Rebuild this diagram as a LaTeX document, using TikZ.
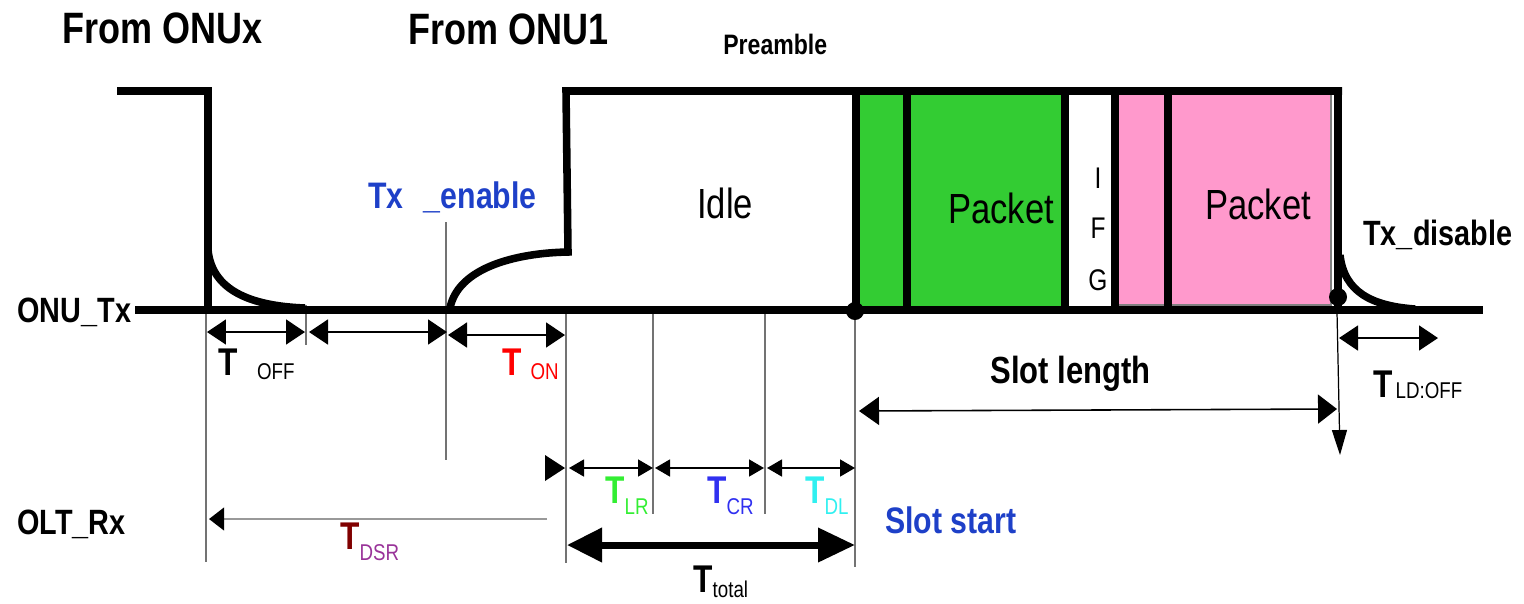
\documentclass[tikz,border=0pt]{standalone}
\usepackage{fontspec}
\setmainfont{Liberation Sans}[FakeStretch=0.82]
\usetikzlibrary{arrows.meta}
\definecolor{pkgreen}{HTML}{33CC33}
\definecolor{pkpink}{HTML}{FF99CC}
\definecolor{enblue}{HTML}{1E40C8}
\definecolor{tlrc}{HTML}{33EE33}
\definecolor{tcrc}{HTML}{3030F0}
\definecolor{tdlc}{HTML}{30F0F0}
\definecolor{tdsrc}{HTML}{800000}
\definecolor{dsrc}{HTML}{993399}
\newcommand{\fsz}[1]{\fontsize{#1}{#1}\selectfont}
\newcommand{\Tlab}[5]{{\color{#1}\fsz{22}\bfseries T}\hspace{#3}\raisebox{-#4}{\color{#2}\fsz{13}#5}}
\begin{document}
\begin{tikzpicture}[x=0.02cm,y=-0.02cm,
  sig/.style={line width=4.3pt, line join=miter},
  guide/.style={line width=0.7pt, draw=black!55},
  dimA/.style={line width=0.9pt, {Triangle[length=0.38cm,width=0.5cm]}-{Triangle[length=0.38cm,width=0.5cm]}},
  dimSL/.style={line width=0.9pt, {Triangle[length=0.4cm,width=0.56cm]}-{Triangle[length=0.38cm,width=0.58cm]}},
  dimB/.style={line width=0.9pt, {Triangle[length=0.3cm,width=0.34cm]}-{Triangle[length=0.3cm,width=0.34cm]}},
  dimC/.style={line width=4pt, {Triangle[length=0.7cm,width=0.66cm]}-{Triangle[length=0.74cm,width=0.66cm]}},
  lab/.style={inner sep=0pt, anchor=base west},
  bl/.style={lab, font=\bfseries\fsz{20}},
  dot/.style={circle, fill=black, inner sep=0pt, minimum size=0.36cm},
]
\useasboundingbox (0,0) rectangle (1524,603);

% packet fills
\fill[pkgreen] (858,95) rectangle (1065,307);
\fill[pkpink] (1115,95) rectangle (1331,307);
\draw[black!50, line width=0.6pt] (1118,305) -- (1331,305) -- (1331,95);

% guide lines
\draw[guide] (206,312) -- (206,562);
\draw[guide] (306,305) -- (306,345);
\draw[guide] (446,222) -- (446,460);
\draw[guide] (566,312) -- (566,563);
\draw[guide] (653,312) -- (653,514);
\draw[guide] (765,312) -- (765,514);
\draw[guide] (855,312) -- (855,567);
\draw[line width=0.7pt, -{Triangle[length=0.5cm,width=0.3cm]}] (1337,312) -- (1340,455);

% signal
\draw[sig] (117,91) -- (208,91) -- (208,310);
\draw[sig] (135,310) -- (1483,310);
\draw[sig] (208,250) .. controls (212,290) and (250,306) .. (305,308);
\draw[sig] (450,308) .. controls (458,268) and (515,253) .. (568,252) -- (566,91) -- (1342,91);
\draw[sig] (856,91) -- (856,310);
\draw[sig] (907,91) -- (907,310);
\draw[sig] (1065,91) -- (1065,310);
\draw[sig] (1115,91) -- (1115,310);
\draw[sig] (1168,91) -- (1168,310);
\draw[sig] (1338,91) -- (1338,310);
\draw[sig] (1340,255) .. controls (1344,292) and (1372,306) .. (1415,309);
\node[dot] (slotstartdot) at (855,311) {};
\node[dot] (slotenddot) at (1338,297) {};

% dimension arrows
\draw[dimA] (207,332) -- (305,332);
\draw[dimA] (309,332) -- (447,332);
\draw[dimA] (448,335) -- (565,335);
\draw[dimA] (1339,338) -- (1438,338);
\draw[dimSL] (859,411) -- (1337,409);
\draw[dimB] (569,468) -- (653,468);
\draw[dimB] (655,468) -- (764,468);
\draw[dimB] (767,468) -- (855,468);
\fill (545,455) -- (565,468) -- (545,481) -- cycle;
\draw[line width=1.4pt, draw=black!40, -{Triangle[length=0.3cm,width=0.45cm,color=black]}] (547,519) -- (209,519);
\draw[dimC] (567,545) -- (855,545);

% labels
\node[lab, font=\bfseries\fsz{25}] (fromx) at (62,43) {From ONUx};
\node[lab, font=\bfseries\fsz{25}] (from1) at (408,44) {From ONU1};
\node[lab, font=\bfseries\fsz{16}] (pre) at (723,54) {Preamble};
\node[bl] (onutx) at (17,322) {ONU\_Tx};
\node[bl] (oltrx) at (17,534) {OLT\_Rx};
\node[lab, font=\bfseries\fsz{21}, text=enblue] (txen) at (368,208) {Tx\hspace{0.55em}\_enable};
\node[bl] (txdis) at (1363,245) {Tx\_disable};
\node[lab, font=\bfseries\fsz{21.5}] (slotlen) at (990,383) {Slot length};
\node[lab, font=\bfseries\fsz{21}, text=enblue] (slotst) at (885,533) {Slot start};
\node[lab, font=\fsz{24}] (idle) at (697,218) {Idle};
\node[lab, font=\fsz{24}] (pk1) at (948,223) {Packet};
\node[lab, font=\fsz{24}] (pk2) at (1205,219) {Packet};
\node[inner sep=0pt, anchor=base, font=\fsz{17}] (ifgi) at (1098,188) {I};
\node[inner sep=0pt, anchor=base, font=\fsz{17}] (ifgf) at (1098,238) {F};
\node[inner sep=0pt, anchor=base, font=\fsz{17}] (ifgg) at (1098,290) {G};

\node[lab] (toff) at (218,375) {\Tlab{black}{black}{11pt}{2.8pt}{OFF}};
\node[lab] (ton) at (502,375) {\Tlab{red}{red}{5pt}{2.8pt}{ON}};
\node[lab] (tldoff) at (1373,397) {\Tlab{black}{black}{1.7pt}{0.6pt}{LD:OFF}};
\node[lab] (tlr) at (605,503) {\Tlab{tlrc}{tlrc}{0pt}{6.3pt}{LR}};
\node[lab] (tcr) at (707,503) {\Tlab{tcrc}{tcrc}{0pt}{6.3pt}{CR}};
\node[lab] (tdl) at (805,503) {\Tlab{tdlc}{tdlc}{0pt}{6.3pt}{DL}};
\node[lab] (ttotal) at (693,592) {\Tlab{black}{black}{0pt}{3.4pt}{total}};
\node[lab] (tdsr) at (340,549) {\Tlab{tdsrc}{dsrc}{0pt}{6.8pt}{DSR}};
\end{tikzpicture}
\end{document}
